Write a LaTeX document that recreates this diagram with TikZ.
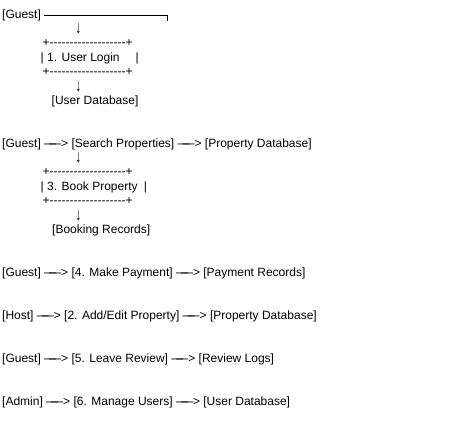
\documentclass[tikz,border=0pt]{standalone}
\usepackage{fontspec}
\setmainfont{Liberation Sans}
\newcommand\hy{-\kern0pt}
\newcommand\hyrun{+\hy\hy\hy\hy\hy\hy\hy\hy\hy\hy\hy\hy\hy\hy\hy\hy\hy\hy\hy+}
\newcommand\harr{—\kern-7pt—>}
\newcommand\darr{\scalebox{1}[1.45]{↓}}
\begin{document}
\begin{tikzpicture}[x=1pt,y=-1pt,
  txt/.style={inner sep=0pt, anchor=base west, font=\fontsize{12}{14}\selectfont},
  dn/.style={inner sep=0pt, anchor=base, font=\fontsize{12}{14}\selectfont},
  conn/.style={line width=0.8pt}]
\useasboundingbox (0,0) rectangle (450,430);
% block 1
\node[txt] (g1) at (2,18.3) {[Guest]};
\coordinate (c1) at (167,21);
\draw[conn] ([xshift=3.3pt]g1.east) -| (c1);
\node[dn] (a1) at (78.3,34) {\darr};
\node[txt] (b1t) at (42.5,47.0) {\hyrun};
\node[txt] (b1m) at (40.5,61.3) {| 1. User Login};
\node[txt] (b1r) at (135.3,61.3) {|};
\node[txt] (b1b) at (42.5,75.6) {\hyrun};
\node[dn] (a2) at (78.3,91.4) {\darr};
\node[txt] (udb1) at (51.5,104.3) {[User Database]};
% block 2
\node[txt] (l9) at (2,147.3) {[Guest] \harr{} [Search Properties] \harr{} [Property Database]};
\node[dn] (a3) at (78.3,163) {\darr};
\node[txt] (b2t) at (42.5,176.0) {\hyrun};
\node[txt] (b2m) at (40.5,190.3) {| 3. Book Property};
\node[txt] (b2r) at (143.6,190.3) {|};
\node[txt] (b2b) at (42.5,204.6) {\hyrun};
\node[dn] (a4) at (78.3,220.4) {\darr};
\node[txt] (brec) at (52,233.3) {[Booking Records]};
% single lines
\node[txt] (l18) at (2,276.2) {[Guest] \harr{} [4. Make Payment] \harr{} [Payment Records]};
\node[txt] (l21) at (2,319.2) {[Host] \harr{} [2. Add/Edit Property] \harr{} [Property Database]};
\node[txt] (l24) at (2,362.2) {[Guest] \harr{} [5. Leave Review] \harr{} [Review Logs]};
\node[txt] (l27) at (2,405.2) {[Admin] \harr{} [6. Manage Users] \harr{} [User Database]};
\end{tikzpicture}
\end{document}
